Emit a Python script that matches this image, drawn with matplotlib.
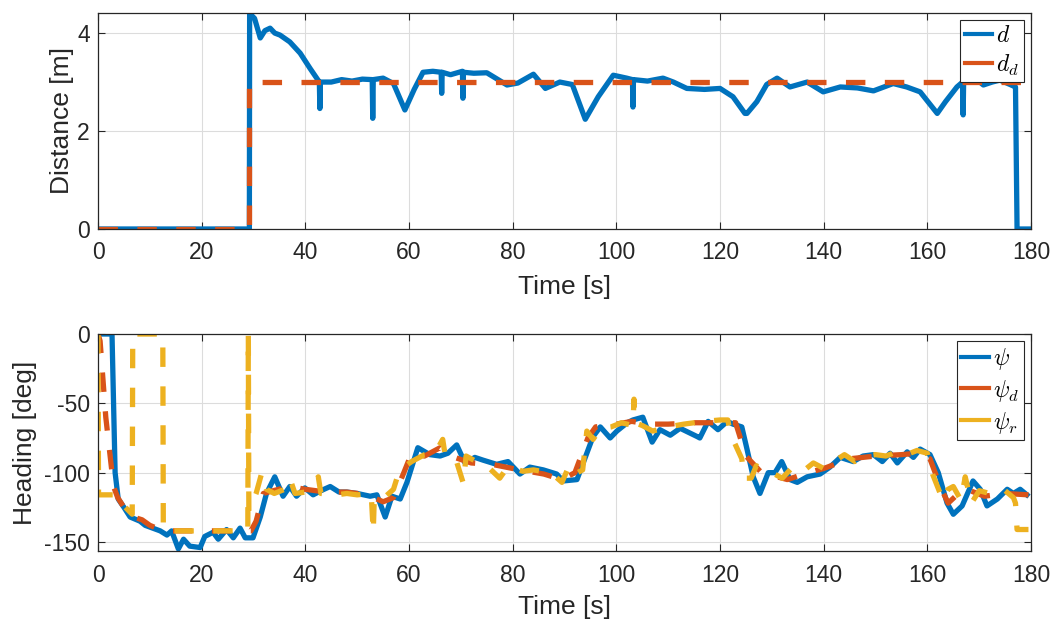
import matplotlib
matplotlib.use("Agg")
import matplotlib.pyplot as plt
from matplotlib.lines import Line2D

# ---- distance data ----
d_t = [0, 29.2, 29.25, 30.2, 31.3, 32.2, 33.2, 34.1, 35.1, 37.0, 39.0, 40.9, 42.7,
       42.8, 42.9, 45.0, 47.0, 49.0, 51.0, 52.9, 53.0, 53.1, 55.0, 57.0, 59.2, 61.0,
       62.7, 64.6, 66.2, 66.3, 66.4, 68.0, 70.3, 70.4, 70.5, 72.5, 75.0, 78.9, 81.0,
       84.0, 86.3, 89.1, 91.5, 94.0, 96.5, 99.4, 102.0, 103.1, 103.2, 103.3, 106.0,
       109.0, 111.0, 113.6, 117.0, 120.0, 122.5, 124.8, 125.2, 127.1, 129.0, 131.0,
       133.5, 136.8, 139.9, 143.2, 146.5, 149.6, 153.4, 156.0, 158.6, 161.9, 163.5,
       165.7, 166.8, 166.9, 167.0, 167.6, 169.0, 170.8, 172.5, 174.0, 176.6, 177.0,
       177.3, 179.5]
d_val = [0, 0, 4.40, 4.30, 3.90, 4.05, 4.10, 4.00, 3.96, 3.82, 3.59, 3.28, 3.00,
         2.46, 3.00, 3.00, 3.05, 3.02, 3.06, 3.05, 2.26, 3.05, 3.08, 2.97, 2.43, 2.85,
         3.20, 3.22, 3.20, 2.77, 3.20, 3.15, 3.22, 2.67, 3.20, 3.18, 3.19, 2.94, 2.98,
         3.16, 2.87, 3.00, 2.95, 2.24, 2.70, 3.14, 3.08, 3.05, 2.49, 3.05, 3.02,
         3.08, 3.00, 2.87, 2.85, 2.87, 2.70, 2.36, 2.36, 2.60, 2.95, 3.08,
         2.90, 3.00, 2.80, 2.90, 2.88, 2.82, 2.97, 2.90, 2.80, 2.36, 2.60,
         2.90, 3.00, 2.33, 3.05, 3.20, 3.10, 2.94, 3.00, 3.04, 2.92, 2.90,
         0.0, 0.0]

dd_t = [0, 29.2, 29.2, 179.5]
dd_val = [0, 0, 3, 3]

# ---- heading data ----
psi_t = [0, 2.7, 3.3, 3.9, 5.0, 6.2, 8.1, 9.1, 12.0, 13.3, 14.2, 15.5, 16.5, 17.7,
         19.7, 20.6, 22.2, 23.2, 24.8, 26.1, 27.4, 28.4, 29.9, 31.3, 32.5, 34.1,
         35.7, 37.0, 38.3, 39.9, 41.5, 43.0, 44.8, 46.5, 48.0, 50.0, 52.5, 53.8,
         55.4, 56.7, 58.3, 59.6, 61.7, 64.0, 66.0, 67.5, 69.2, 70.8, 72.7, 74.3,
         76.9, 79.1, 81.4, 83.3, 85.9, 88.5, 89.7, 92.4, 93.6, 95.5, 96.9, 98.8,
         100.1, 102.1, 103.2, 105.1, 106.9, 108.4, 110.4, 112.3, 115.6, 116.1,
         117.7, 119.6, 121.4, 122.5, 124.2, 125.2, 126.4, 127.7, 129.3, 130.6,
         131.9, 133.5, 134.9, 136.8, 139.3, 141.2, 143.2, 145.7, 147.6, 149.6,
         151.3, 152.8, 154.2, 156.1, 157.3, 158.6, 160.5, 162.1, 163.8, 165.0,
         166.7, 168.8, 170.2, 171.5, 173.5, 175.4, 176.6, 177.9, 179.2]
psi_val = [0, 0, -100, -119, -125, -132, -135, -138, -142, -145, -142, -155, -148,
           -153, -154, -146, -143, -148, -141, -147, -140, -147, -147, -132, -115,
           -103, -117, -110, -117, -111, -116, -113, -110, -114, -114, -115, -117,
           -116, -132, -117, -119, -107, -82, -87, -88, -86, -80, -93, -89, -91,
           -94, -92, -101, -96, -98, -101, -106, -105, -93, -74, -67, -75,
           -70, -64, -62, -60, -78, -69, -73, -68, -74, -75,
           -63, -69, -63, -65, -67, -83, -103, -115, -100, -100,
           -92, -105, -107, -103, -101, -96, -89, -92, -88, -87,
           -92, -86, -93, -85, -89, -83, -87, -100, -122, -130,
           -124, -106, -112, -124, -119, -112, -115, -112, -116]

psid_t = [0, 0.4, 1.5, 3.0, 3.8, 5.0, 6.8, 8.5, 10.0, 12.6, 29.5, 30.5, 31.9, 33.8,
          37.0, 40.0, 44.0, 48.0, 52.0, 55.0, 57.0, 59.0, 60.5, 63.0, 66.0, 68.0,
          72.0, 76.0, 80.0, 86.0, 89.5, 92.0, 94.5, 96.0, 100.0, 103.0, 106.0,
          110.0, 115.0, 120.0, 123.0, 125.0, 128.0, 133.0, 137.0, 140.0, 145.0,
          150.0, 155.0, 158.0, 160.5, 162.5, 164.0, 166.0, 167.6, 171.0, 175.0,
          179.5]
psid_val = [0, -5, -60, -110, -118, -125, -132, -134, -138, -142, -142, -135, -115,
            -113, -110, -112, -114, -114, -116, -121, -118, -100, -86, -88, -82,
            -88, -93, -94, -97, -101, -105, -100, -75, -67, -65, -63, -65,
            -65, -64, -64, -64, -88, -100, -105, -100, -97, -90,
            -88, -87, -86, -90, -110, -122, -115, -112, -117, -115,
            -116]

psir_t = [0, 0.1, 3.6, 5.0, 6.6, 6.7, 12.5, 12.6, 28.9, 29.0, 29.1, 30.5, 31.6,
          32.5, 34.0, 36.0, 37.0, 38.0, 40.0, 42.5, 43.0, 46.0, 48.0, 50.0, 52.7,
          53.1, 53.3, 55.5, 57.0, 58.0, 59.0, 60.5, 63.0, 65.0, 66.5, 67.0, 69.0,
          70.5, 71.0, 73.0, 75.0, 77.5, 79.0, 82.0, 84.0, 87.0, 88.0, 89.5, 91.0,
          92.5, 93.5, 94.3, 95.5, 97.0, 99.0, 101.0, 103.2, 103.4, 103.6, 105.0,
          107.0, 110.0, 113.0, 117.0, 120.0, 121.5, 122.0, 124.2, 124.6, 126.0,
          127.0, 128.0, 130.0, 132.0, 134.0, 136.0, 138.0, 140.0, 142.0, 144.0,
          146.0, 148.0, 150.0, 152.0, 154.0, 156.0, 158.0, 160.0, 161.0, 163.0,
          164.0, 165.0, 166.5, 167.3, 168.5, 170.0, 173.0, 175.0, 176.6, 177.0,
          177.3, 179.5]
psir_val = [0, -116, -116, -124, -130, 0, 0, -142, -142, 0, -128, -115, -100,
            -112, -115, -112, -104, -115, -114, -103, -115, -116, -115, -116, -115,
            -143, -118, -117, -112, -100, -96, -92, -87, -86, -76, -88, -90,
            -108, -88, -92, -95, -104, -96, -99, -98, -100, -102, -107, -94,
            -100, -98, -70, -76, -68, -67, -64, -66, -47, -64, -66,
            -70, -67, -65, -63, -62, -62, -72, -90, -104, -104,
            -95, -97, -100, -104, -96, -99, -93, -97, -92, -87,
            -92, -88, -87, -88, -85, -87, -84, -86, -101, -120,
            -112, -110, -120, -103, -122, -113, -116, -113, -118, -122,
            -141, -141]

x_ticks = [0, 20, 40, 60, 80, 100, 120, 140, 160, 180]
dist_ticks = [0, 2, 4]
head_ticks = [-150, -100, -50, 0]

# ---- styling ----
plt.rcParams['font.family'] = ['Liberation Sans', 'DejaVu Sans']
plt.rcParams['mathtext.fontset'] = 'cm'
plt.rcParams['axes.unicode_minus'] = False
plt.rcParams['lines.scale_dashes'] = False

C_BLUE = '#0072BD'
C_ORANGE = '#D95319'
C_YELLOW = '#EDB120'
C_AX = '#262626'
LW = 3.8
DASH = (0, (14.0, 14.0))

fig = plt.figure(figsize=(10.55, 6.25), dpi=100)
ax1 = fig.add_axes([0.0929, 0.6336, 0.8844, 0.3456])
ax2 = fig.add_axes([0.0929, 0.1184, 0.8844, 0.3472])


def style(ax):
    ax.grid(True, color='#dcdcdc', linewidth=0.8)
    ax.set_axisbelow(True)
    for s in ax.spines.values():
        s.set_color(C_AX)
        s.set_linewidth(0.9)
    ax.tick_params(direction='in', length=5, width=0.8, colors=C_AX,
                   labelsize=16.5, top=True, right=True)
    ax.tick_params(axis='x', pad=9)
    ax.tick_params(axis='y', pad=6)
    ax.set_xticks(x_ticks)
    ax.set_xlim(0, 180)


def add_legend(ax, colors, labels):
    handles = [Line2D([], [], color=c, lw=3.0) for c in colors]
    leg = ax.legend(handles, labels, loc='upper right', fontsize=17,
                    handlelength=1.15, handletextpad=0.2, borderpad=0.2,
                    labelspacing=0.25, borderaxespad=0.3, fancybox=False,
                    framealpha=1)
    leg.get_frame().set_edgecolor(C_AX)
    leg.get_frame().set_linewidth(0.8)


ax1.plot(d_t, d_val, color=C_BLUE, lw=LW, solid_joinstyle='round')
ax1.plot(dd_t, dd_val, color=C_ORANGE, lw=LW, linestyle=DASH)
style(ax1)
ax1.set_ylim(0, 4.41)
ax1.set_yticks(dist_ticks)
ax1.set_xlabel('Time [s]', fontsize=19, color=C_AX, va='center')
ax1.set_ylabel('Distance [m]', fontsize=19, color=C_AX, va='center')
ax1.xaxis.set_label_coords(0.5, -0.268)
ax1.yaxis.set_label_coords(-0.0386, 0.5)
add_legend(ax1, [C_BLUE, C_ORANGE], ['$d$', '$d_d$'])

ax2.plot(psi_t, psi_val, color=C_BLUE, lw=LW, solid_joinstyle='round')
ax2.plot(psid_t, psid_val, color=C_ORANGE, lw=LW, linestyle=DASH)
ax2.plot(psir_t, psir_val, color=C_YELLOW, lw=LW, linestyle=DASH)
style(ax2)
ax2.set_ylim(-156.5, 0)
ax2.set_yticks(head_ticks)
ax2.set_xlabel('Time [s]', fontsize=19, color=C_AX, va='center')
ax2.set_ylabel('Heading [deg]', fontsize=19, color=C_AX, va='center')
ax2.xaxis.set_label_coords(0.5, -0.258)
ax2.yaxis.set_label_coords(-0.078, 0.5)
add_legend(ax2, [C_BLUE, C_ORANGE, C_YELLOW], [r'$\psi$', r'$\psi_d$', r'$\psi_r$'])

fig.savefig('out.png', dpi=100)
